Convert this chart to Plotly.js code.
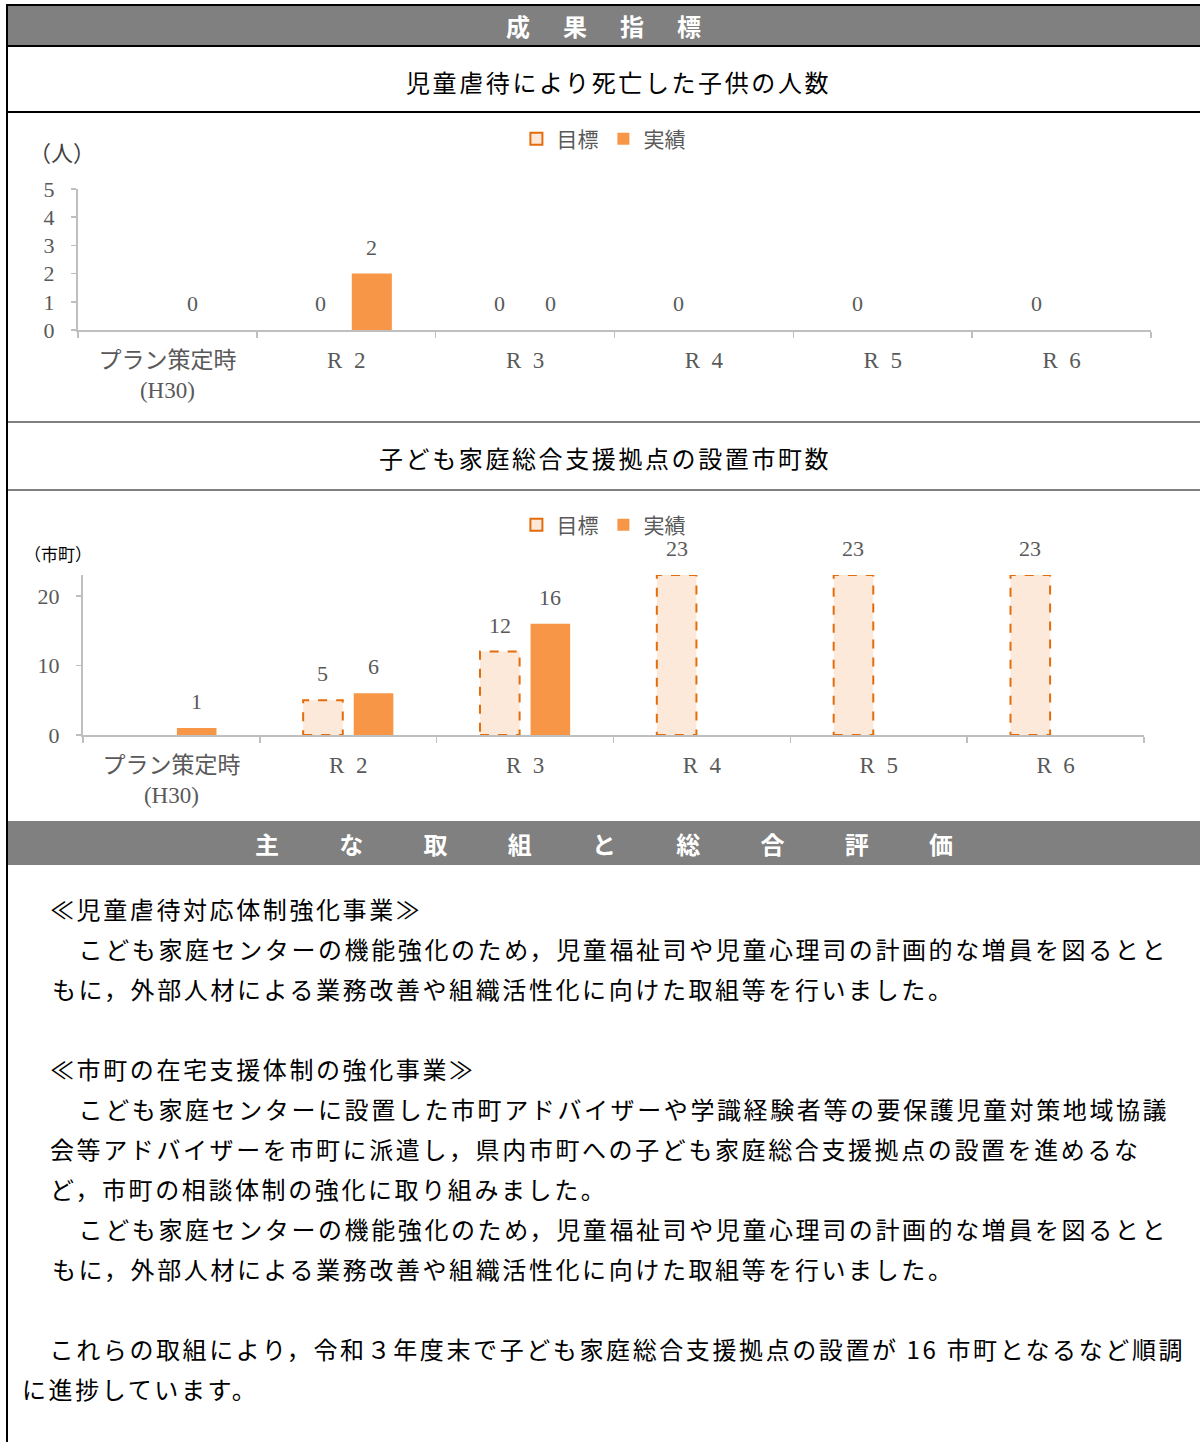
<!DOCTYPE html>
<html><head><meta charset="utf-8">
<script src="https://cdn.plot.ly/plotly-3.0.1.min.js"></script>
<style>
html,body{margin:0;padding:0;}
body{width:1200px;height:1442px;position:relative;background:#fff;overflow:hidden;font-family:"Noto Sans CJK JP","Noto Sans",sans-serif;color:#000;}
.abs{position:absolute;}
.blk{background:#000;}
.gry{background:#808080;}
.hdr{position:absolute;display:flex;color:#fff;font-weight:bold;font-size:24px;}
.hdr span{display:block;text-align:center;}
.ttl{position:absolute;font-size:24px;letter-spacing:2.6px;white-space:nowrap;line-height:40px;}
.ln{position:absolute;font-size:24px;letter-spacing:2.6px;white-space:nowrap;line-height:40px;}
</style></head><body>

<!-- frame -->
<div class="abs blk" style="left:6px;top:4px;width:1194px;height:2px;"></div>
<div class="abs blk" style="left:6px;top:4px;width:2px;height:1438px;"></div>
<div class="abs gry" style="left:8px;top:6px;width:1192px;height:39px;"></div>
<div class="abs blk" style="left:8px;top:45px;width:1192px;height:2px;"></div>
<div class="abs blk" style="left:8px;top:111px;width:1192px;height:2px;"></div>
<div class="abs gry" style="left:8px;top:421px;width:1192px;height:2px;"></div>
<div class="abs gry" style="left:8px;top:489px;width:1192px;height:2px;"></div>
<div class="abs gry" style="left:8px;top:821px;width:1192px;height:44px;"></div>

<div id="h1" class="hdr" style="top:8px;height:36px;line-height:36px;"></div>
<div id="h2" class="hdr" style="top:824px;height:40px;line-height:40px;"></div>

<div id="t1" class="ttl" style="left:406px;top:62px;"></div>
<div id="t2" class="ttl" style="left:379px;top:438px;"></div>

<div id="chart1" class="abs" style="left:8px;top:113px;width:1192px;height:308px;"></div>
<div id="chart2" class="abs" style="left:8px;top:491px;width:1192px;height:330px;"></div>

<div id="body"></div>

<script>
// ---- data ----
const categories = ['プラン策定時<br>(H30)', 'R\u20022', 'R\u20023', 'R\u20024', 'R\u20025', 'R\u20026'];
const deathTarget = [null, 0, 0, 0, 0, 0];
const deathActual = [0, 2, 0, null, null, null];
const baseTarget = [null, 5, 12, 23, 23, 23];
const baseActual = [1, 6, 16, null, null, null];
const seriesNames = ['目標', '実績'];
const header1 = ['成', '果', '指', '標'];
const header2 = ['主', 'な', '取', '組', 'と', '総', '合', '評', '価'];
const chartTitle1 = '児童虐待により死亡した子供の人数';
const chartTitle2 = '子ども家庭総合支援拠点の設置市町数';
const unit1 = '（人）';
const unit2 = '（市町）';
const bodyLines = [
  ['≪児童虐待対応体制強化事業≫', 50, 909],
  ['　こども家庭センターの機能強化のため，児童福祉司や児童心理司の計画的な増員を図るとと', 52, 949],
  ['もに，外部人材による業務改善や組織活性化に向けた取組等を行いました。', 52, 989],
  ['≪市町の在宅支援体制の強化事業≫', 50, 1069],
  ['　こども家庭センターに設置した市町アドバイザーや学識経験者等の要保護児童対策地域協議', 52, 1109],
  ['会等アドバイザーを市町に派遣し，県内市町への子ども家庭総合支援拠点の設置を進めるな', 50, 1149],
  ['ど，市町の相談体制の強化に取り組みました。', 50, 1189],
  ['　こども家庭センターの機能強化のため，児童福祉司や児童心理司の計画的な増員を図るとと', 52, 1229],
  ['もに，外部人材による業務改善や組織活性化に向けた取組等を行いました。', 52, 1269],
  ['　これらの取組により，令和３年度末で子ども家庭総合支援拠点の設置が 16 市町となるなど順調', 23, 1349],
  ['に進捗しています。', 22, 1389]
];

// ---- page text ----
function buildHeader(id, chars, step, center) {
  const el = document.getElementById(id);
  el.style.left = (center - chars.length * step / 2) + 'px';
  chars.forEach(c => {
    const s = document.createElement('span');
    s.style.width = step + 'px';
    s.textContent = c;
    el.appendChild(s);
  });
}
buildHeader('h1', header1, 57, 603.5);
buildHeader('h2', header2, 84.25, 604);
document.getElementById('t1').textContent = chartTitle1;
document.getElementById('t2').textContent = chartTitle2;
const bodyEl = document.getElementById('body');
bodyLines.forEach(([txt, left, cy]) => {
  const d = document.createElement('div');
  d.className = 'ln';
  d.style.left = left + 'px';
  d.style.top = (cy - 20) + 'px';
  d.textContent = txt;
  bodyEl.appendChild(d);
});

// ---- charts ----
const ORANGE = '#F79646';
const LIGHT = '#FDE9D9';
const DASHC = '#E46C0A';
const GRAYTXT = '#595959';
const AXIS = '#BFBFBF';
const SERIF = 'Liberation Serif, Noto Sans CJK JP, serif';
const SANS = 'Noto Sans CJK JP, sans-serif';
const BW = 0.224, HALF = 0.143;

function makeChart(id, target, actual, yMax, dtick, unitText, unitPos, unitFont, margin, legendY) {
  const idx = categories.map((c, i) => i);
  const traces = [
    { type: 'bar', name: seriesNames[0], x: [categories[0]], y: [null], showlegend: true,
      marker: { color: LIGHT, line: { color: DASHC, width: 2 } }, hoverinfo: 'skip' },
    { type: 'bar', name: seriesNames[0], x: categories, y: target, showlegend: false,
      width: BW, offset: -HALF - BW / 2,
      marker: { color: LIGHT, line: { width: 0 } } },
    { type: 'bar', name: seriesNames[1], x: categories, y: actual, showlegend: true,
      width: BW, offset: HALF - BW / 2,
      marker: { color: ORANGE, line: { width: 0 } } }
  ];
  const shapes = [];
  const annotations = [];
  const lblFont = { family: SERIF, size: 22, color: GRAYTXT };
  idx.forEach(i => {
    if (target[i] !== null && target[i] > 0) {
      shapes.push({ type: 'rect', xref: 'x', yref: 'y', layer: 'above',
        x0: i - HALF - BW / 2, x1: i - HALF + BW / 2, y0: 0, y1: target[i],
        line: { color: DASHC, width: 2, dash: 'dash' }, fillcolor: 'rgba(0,0,0,0)' });
    }
    if (target[i] !== null) {
      annotations.push({ xref: 'x', yref: 'y', x: i - HALF, y: target[i], text: String(target[i]),
        showarrow: false, yanchor: 'bottom', yshift: 12, font: lblFont });
    }
    if (actual[i] !== null) {
      annotations.push({ xref: 'x', yref: 'y', x: i + HALF, y: actual[i], text: String(actual[i]),
        showarrow: false, yanchor: 'bottom', yshift: 12, font: lblFont });
    }
  });
  annotations.push({ xref: 'paper', yref: 'paper', x: unitPos[0], y: unitPos[1], text: unitText,
    showarrow: false, xanchor: 'center', yanchor: 'middle', font: unitFont });

  const layout = {
    width: 1192, height: id === 'chart1' ? 308 : 330,
    margin: margin,
    paper_bgcolor: 'rgba(0,0,0,0)', plot_bgcolor: 'rgba(0,0,0,0)',
    barmode: 'overlay',
    showlegend: true,
    legend: { orientation: 'h', xref: 'container', yref: 'container', x: 0.4995, xanchor: 'center',
      y: legendY, yanchor: 'middle', font: { family: SANS, size: 21, color: GRAYTXT },
      itemwidth: 30, bgcolor: 'rgba(0,0,0,0)' },
    xaxis: { type: 'category', categoryorder: 'array', categoryarray: categories,
      range: [-0.5, categories.length - 0.5],
      showline: true, linecolor: AXIS, linewidth: 2, ticks: 'outside', tickson: 'boundaries',
      ticklen: 6, tickcolor: AXIS, tickwidth: 1.5, showgrid: false, zeroline: false,
      tickfont: { family: SERIF, size: 23, color: GRAYTXT }, ticklabelstandoff: 8 },
    yaxis: { range: [0, yMax], dtick: dtick, tick0: 0, showline: true, linecolor: AXIS, linewidth: 2,
      ticks: 'outside', ticklen: 5, tickcolor: AXIS, tickwidth: 1.5, showgrid: false, zeroline: false,
      tickfont: { family: SERIF, size: 22, color: GRAYTXT }, ticklabelstandoff: 12 },
    shapes: shapes,
    annotations: annotations
  };
  Plotly.newPlot(id, traces, layout, { staticPlot: true, displayModeBar: false });
}

makeChart('chart1', deathTarget, deathActual, 5, 1, unit1, [-0.0149, 1.255],
  { family: SERIF, size: 22, color: '#404040' }, { l: 70, r: 49, t: 76, b: 91 }, 1 - 26 / 308);
makeChart('chart2', baseTarget, baseActual, 23, 10, unit2, [-0.0236, 1.1375],
  { family: SANS, size: 17, color: '#000' }, { l: 75, r: 56, t: 84, b: 86 }, 1 - 34 / 330);
</script>
</body></html>
